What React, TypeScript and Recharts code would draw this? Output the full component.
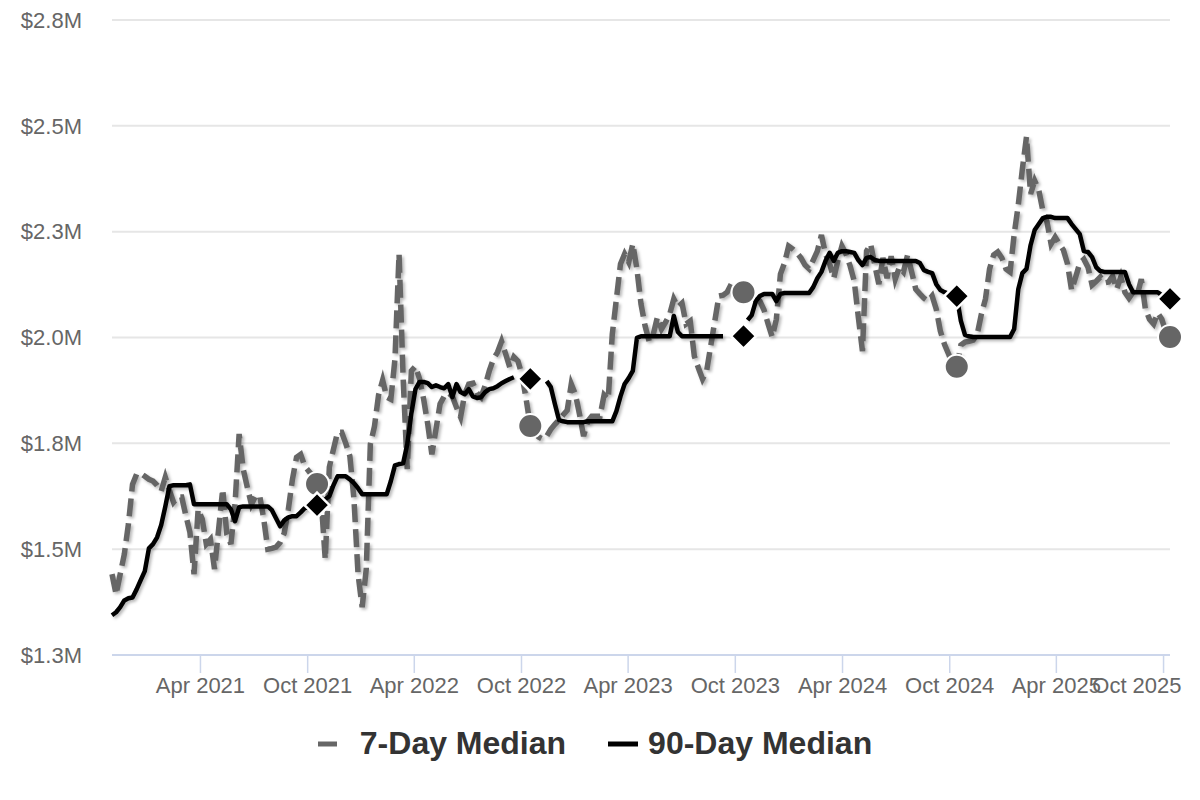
import { ComposedChart, Line, XAxis, YAxis, CartesianGrid, Legend } from 'recharts'

const START = Date.UTC(2020, 10, 1)
const DAY = 86400000
const FONT = '"Liberation Sans", Arial, sans-serif'

// weekly samples from 2020-11-01, values in $K
const median7 = [
  1441, 1393, 1441, 1488, 1559, 1653, 1677, 1679, 1672, 1665,
  1661, 1651, 1637, 1670, 1639, 1611, 1623, 1623, 1580, 1540,
  1441, 1594, 1571, 1512, 1523, 1453, 1547, 1642, 1535, 1512,
  1606, 1772, 1689, 1646, 1606, 1625, 1627, 1571, 1500, 1502,
  1505, 1516, 1538, 1594, 1665, 1717, 1724, 1696, 1684, 1672,
  1654, 1618, 1476, 1694, 1736, 1776, 1776, 1750, 1720, 1618,
  1441, 1363, 1453, 1748, 1790, 1864, 1899, 1859, 1854, 1949,
  2197, 1902, 1689, 1921, 1932, 1902, 1854, 1795, 1724, 1783,
  1843, 1861, 1869, 1861, 1835, 1812, 1866, 1890, 1892, 1869,
  1859, 1887, 1921, 1949, 1965, 1991, 1961, 1930, 1954, 1944,
  1911, 1854, 1791, 1779, 1765, 1760, 1767, 1783, 1795, 1805,
  1817, 1828, 1890, 1866, 1819, 1767, 1802, 1814, 1814, 1814,
  1864, 1854, 2008, 2091, 2174, 2197, 2178, 2221, 2162, 2079,
  2027, 1991, 2008, 2048, 2020, 2036, 2055, 2091, 2072, 2081,
  2032, 2039, 1956, 1928, 1902, 1921, 1980, 2039, 2098, 2100,
  2107, 2126, 2133, 2119, 2107, 2100, 2093, 2088, 2086, 2065,
  2032, 2001, 2043, 2150, 2176, 2216, 2209, 2200, 2188, 2171,
  2162, 2183, 2204, 2242, 2197, 2174, 2140, 2181, 2216, 2197,
  2169, 2133, 2048, 1968, 2204, 2221, 2171, 2126, 2188, 2140,
  2192, 2138, 2166, 2155, 2195, 2155, 2114, 2103, 2093, 2086,
  2098, 2067, 2015, 1984, 1961, 1937, 1930, 1982, 1989, 1991,
  1994, 2008, 2055, 2091, 2162, 2195, 2202, 2188, 2162, 2155,
  2244, 2313, 2398, 2474, 2339, 2370, 2348, 2299, 2273, 2221,
  2237, 2221, 2207, 2174, 2112, 2143, 2176, 2185, 2166, 2124,
  2133, 2143, 2129, 2131, 2145, 2114, 2143, 2107, 2093, 2107,
  2100, 2138, 2067, 2043, 2032, 2058, 2043, 2013, 2001,
]

const median90 = [
  1344, 1351, 1363, 1379, 1384, 1386, 1405, 1427, 1448, 1502,
  1512, 1528, 1557, 1601, 1649, 1651, 1651, 1651, 1651, 1653,
  1606, 1606, 1606, 1606, 1606, 1606, 1606, 1606, 1606, 1594,
  1566, 1599, 1601, 1601, 1601, 1601, 1601, 1601, 1601, 1592,
  1573, 1554, 1568, 1575, 1578, 1578, 1587, 1597, 1599, 1601,
  1604, 1608, 1618, 1625, 1651, 1672, 1672, 1672, 1665, 1656,
  1644, 1630, 1630, 1630, 1630, 1630, 1630, 1630, 1661, 1698,
  1701, 1703, 1748, 1821, 1878, 1895, 1895, 1892, 1883, 1887,
  1883, 1880, 1890, 1859, 1890, 1871, 1866, 1878, 1861, 1857,
  1859, 1871, 1878, 1880, 1885, 1892, 1897, 1902, 1906, null,
  null, null, null, null, null, null, 1897, 1883, 1843, 1805,
  1802, 1800, 1800, 1800, 1800, 1800, 1802, 1802, 1802, 1802,
  1802, 1802, 1802, 1826, 1861, 1890, 1904, 1921, 1999, 2003,
  2003, 2003, 2003, 2003, 2003, 2003, 2003, 2051, 2013, 2003,
  2003, 2003, 2003, 2003, 2003, 2003, 2003, 2003, 2003, 2003,
  null, null, null, null, null, 2041, 2053, 2086, 2098, 2103,
  2103, 2103, 2086, 2103, 2105, 2105, 2105, 2105, 2105, 2105,
  2105, 2119, 2140, 2155, 2181, 2200, 2181, 2200, 2204, 2204,
  2202, 2200, 2183, 2171, 2188, 2190, 2183, 2181, 2181, 2181,
  2181, 2181, 2181, 2181, 2181, 2181, 2181, 2176, 2159, 2155,
  2152, 2126, 2112, 2107, 2103, 2100, 2098, 2039, 2006, 2003,
  2001, 2001, 2001, 2001, 2001, 2001, 2001, 2001, 2001, 2001,
  2020, 2114, 2152, 2162, 2218, 2254, 2268, 2282, 2285, 2285,
  2282, 2282, 2282, 2282, 2268, 2256, 2244, 2204, 2202, 2190,
  2166, 2157, 2155, 2155, 2155, 2155, 2155, 2155, 2126, 2107,
  2107, 2107, 2107, 2107, 2107, 2107, 2100, 2093, 2091,
]

// yearly markers (week index)
const markerWeeks = [50, 102, 154, 206, 258]
const marker7 = [1654, 1791, 2107, 1931, 2001]
const marker90 = [1604, 1902, 2003, 2098, 2091]

const xTicks = [
  '2021-04-01', '2021-10-01', '2022-04-01', '2022-10-01', '2023-04-01',
  '2023-10-01', '2024-04-01', '2024-10-01', '2025-04-01', '2025-10-01',
]
const yTicks = [1250, 1500, 1750, 2000, 2250, 2500, 2750]
const MONTHS = ['Jan', 'Feb', 'Mar', 'Apr', 'May', 'Jun', 'Jul', 'Aug', 'Sep', 'Oct', 'Nov', 'Dec']

const weekTime = (w: number) => START + w * 7 * DAY
const data = median7.map((v, i) => ({ t: weekTime(i), d7: v, d90: median90[i] }))
const dots7 = markerWeeks.map((w, i) => ({ t: weekTime(w), v: marker7[i] }))
const dots90 = markerWeeks.map((w, i) => ({ t: weekTime(w), v: marker90[i] }))
const tickTimes = xTicks.map(s => Date.parse(s))

function XTick({ x, y, payload, index }: any) {
  const d = new Date(payload.value)
  const label = `${MONTHS[d.getUTCMonth()]} ${d.getUTCFullYear()}`
  const last = index === tickTimes.length - 1
  return (
    <text x={last ? x + 18 : x} y={y} dy="0.71em" textAnchor={last ? 'end' : 'middle'}
      fill="#666" fontSize={22} fontFamily={FONT}>{label}</text>
  )
}

const CircleDot = (p: any) =>
  p.cx == null || p.cy == null ? <g key={p.index} /> :
    <circle key={p.index} cx={p.cx} cy={p.cy} r={12} fill="#666" stroke="#fff" strokeWidth={2} />

const DiamondDot = (p: any) => {
  if (p.cx == null || p.cy == null) return <g key={p.index} />
  const s = 12.5
  return (
    <polygon key={p.index} points={`${p.cx},${p.cy - s} ${p.cx + s},${p.cy} ${p.cx},${p.cy + s} ${p.cx - s},${p.cy}`}
      fill="#000" stroke="#fff" strokeWidth={2.5} />
  )
}

function LegendContent() {
  return (
    <div style={{ display: 'flex', justifyContent: 'center', alignItems: 'center', height: 37,
      fontFamily: FONT, fontWeight: 700, fontSize: 32, color: '#333' }}>
      <svg width={30} height={10}>
        <line x1={0} y1={5} x2={30} y2={5} stroke="#666" strokeWidth={5} strokeDasharray="19 30" />
      </svg>
      <span style={{ marginLeft: 12 }}>7-Day Median</span>
      <svg width={30} height={10} style={{ marginLeft: 42 }}>
        <line x1={0} y1={5} x2={30} y2={5} stroke="#000" strokeWidth={5} />
      </svg>
      <span style={{ marginLeft: 10 }}>90-Day Median</span>
    </div>
  )
}

export default function App() {
  return (
    <div style={{ position: 'absolute', left: 0, top: 0, width: 1200, height: 800, background: '#fff' }}>
      <style>{`
        .shadow-line .recharts-line-curve { filter: drop-shadow(2px 2px 1.5px rgba(0,0,0,0.28)); }
      `}</style>
      <ComposedChart width={1200} height={800} data={data} margin={{ top: 20, right: 30, bottom: 38, left: 0 }}>
        <CartesianGrid vertical={false} stroke="#e6e6e6" strokeWidth={2} />
        <XAxis dataKey="t" type="number" domain={[START, weekTime(258)]} ticks={tickTimes} interval={0}
          height={70} tickSize={18} tickMargin={4}
          axisLine={{ stroke: '#ccd6eb', strokeWidth: 2 }} tickLine={{ stroke: '#ccd6eb', strokeWidth: 1.5 }}
          tick={<XTick />} />
        <YAxis type="number" domain={[1250, 2750]} ticks={yTicks} interval={0} width={112}
          axisLine={false} tickLine={false} tickSize={0} tickMargin={30}
          tickFormatter={(v: number) => `$${(v / 1000).toFixed(1)}M`}
          tick={{ fill: '#666', fontSize: 22, fontFamily: FONT }} />
        <Legend verticalAlign="bottom" content={<LegendContent />} wrapperStyle={{ left: 0, width: 1190 }} />
        <Line className="shadow-line" dataKey="d7" name="7-Day Median" type="linear" stroke="#666"
          strokeWidth={5.5} strokeDasharray="18 7" dot={false} activeDot={false} isAnimationActive={false} />
        <Line className="shadow-line" dataKey="d90" name="90-Day Median" type="linear" stroke="#000"
          strokeWidth={4.5} strokeLinejoin="round" dot={false} activeDot={false} isAnimationActive={false} />
        <Line data={dots7} dataKey="v" stroke="none" legendType="none" dot={CircleDot}
          activeDot={false} isAnimationActive={false} />
        <Line data={dots90} dataKey="v" stroke="none" legendType="none" dot={DiamondDot}
          activeDot={false} isAnimationActive={false} />
      </ComposedChart>
    </div>
  )
}
